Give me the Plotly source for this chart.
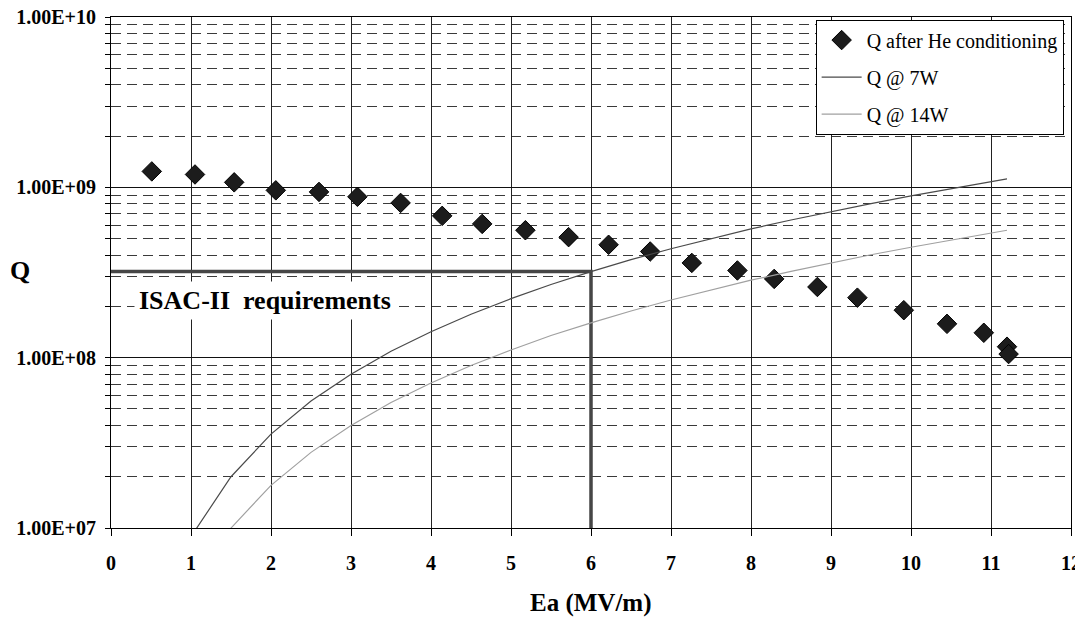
import plotly.graph_objects as go

# Measured data (Q after He conditioning)
E_meas = [0.51, 1.05, 1.54, 2.06, 2.60, 3.08, 3.62, 4.14, 4.64, 5.18, 5.72,
          6.22, 6.74, 7.26, 7.83, 8.29, 8.83, 9.33, 9.91, 10.45, 10.91, 11.20, 11.22]
Q_meas = [1.24e9, 1.19e9, 1.07e9, 9.6e8, 9.4e8, 8.8e8, 8.1e8, 6.8e8, 6.1e8, 5.6e8, 5.1e8,
          4.6e8, 4.2e8, 3.6e8, 3.25e8, 2.9e8, 2.6e8, 2.25e8, 1.9e8, 1.58e8, 1.4e8, 1.16e8, 1.05e8]

# Constant power curves
E_curve = [1.0, 1.5, 2.0, 2.5, 3.0, 3.5, 4.0, 4.5, 5.0, 5.5, 6.0, 6.5, 7.0, 7.5,
           8.0, 8.5, 9.0, 9.5, 10.0, 10.5, 11.0, 11.2]
Q_7W = [8.9e6, 2.0e7, 3.56e7, 5.56e7, 8.0e7, 1.09e8, 1.42e8, 1.8e8, 2.22e8, 2.69e8, 3.2e8,
        3.76e8, 4.36e8, 5.0e8, 5.7e8, 6.43e8, 7.2e8, 8.03e8, 8.9e8, 9.8e8, 1.08e9, 1.12e9]
Q_14W = [4.45e6, 1.0e7, 1.78e7, 2.78e7, 4.0e7, 5.45e7, 7.1e7, 9.0e7, 1.11e8, 1.35e8, 1.6e8,
         1.88e8, 2.18e8, 2.5e8, 2.85e8, 3.21e8, 3.6e8, 4.02e8, 4.45e8, 4.9e8, 5.4e8, 5.6e8]

# ISAC-II requirement corner
req_E = [0, 6, 6]
req_Q = [3.2e8, 3.2e8, 1e7]

x_ticks = list(range(0, 13))
y_major = [1e7, 1e8, 1e9, 1e10]
y_major_text = ["1.00E+07", "1.00E+08", "1.00E+09", "1.00E+10"]
y_minor = [m * d for d in (1e7, 1e8, 1e9) for m in range(2, 10)]

FONT = "Liberation Serif, Times New Roman, serif"

fig = go.Figure()

fig.add_trace(go.Scatter(
    x=req_E, y=req_Q, mode="lines",
    line=dict(color="#464646", width=3.5),
    showlegend=False, hoverinfo="skip"))

fig.add_trace(go.Scatter(
    x=E_meas, y=Q_meas, mode="markers", name="Q after He conditioning",
    legendgroup="a",
    marker=dict(symbol="diamond", size=15, color="#1c1c1c",
                line=dict(color="#000000", width=1))))

fig.add_trace(go.Scatter(
    x=E_curve, y=Q_7W, mode="lines", name="Q @ 7W", legendgroup="b",
    line=dict(color="#4a4a4a", width=1.2)))

fig.add_trace(go.Scatter(
    x=E_curve, y=Q_14W, mode="lines", name="Q @ 14W", legendgroup="c",
    line=dict(color="#a0a0a0", width=1.2)))

fig.update_layout(
    template="none",
    width=1083, height=619,
    margin=dict(l=103, r=20, t=9, b=99, autoexpand=False),
    paper_bgcolor="white", plot_bgcolor="white",
    font=dict(family=FONT, size=20, color="black"),
    legend=dict(
        x=0.734, y=0.995, xanchor="left", yanchor="top",
        bgcolor="white", bordercolor="black", borderwidth=1,
        font=dict(family=FONT, size=20, color="black"),
        tracegroupgap=8, itemwidth=40, traceorder="grouped"),
    xaxis=dict(
        automargin=False, ticklabeloverflow="allow",
        range=[0, 12], tickmode="array", tickvals=x_ticks,
        ticks="outside", ticklen=7, tickcolor="black",
        showline=True, linecolor="black", linewidth=1, mirror=True,
        showgrid=True, gridcolor="#222222", gridwidth=1,
        zeroline=False, ticklabelstandoff=10,
        tickfont=dict(family=FONT, size=20, color="black", weight="bold")),
    yaxis=dict(
        automargin=False, ticklabeloverflow="allow",
        type="log", range=[7, 10], tickmode="array",
        tickvals=y_major, ticktext=y_major_text,
        ticks="outside", ticklen=5, tickcolor="black",
        showline=True, linecolor="black", linewidth=1, mirror=True,
        showgrid=True, gridcolor="#111111", gridwidth=1,
        zeroline=False, ticklabelstandoff=5,
        tickfont=dict(family=FONT, size=20, color="black", weight="bold"),
        minor=dict(tickmode="array", tickvals=y_minor, ticks="outside",
                   ticklen=5, tickcolor="black", showgrid=True,
                   gridcolor="#3a3a3a", gridwidth=1, griddash="10px,6px")),
    annotations=[
        dict(text="<b>ISAC-II  requirements</b>", x=0.29, y=8.335,
             xref="x", yref="y", xanchor="left", yanchor="middle",
             showarrow=False, bgcolor="white", borderpad=4,
             font=dict(family=FONT, size=26, color="black")),
        dict(text="<b>Q</b>", x=-0.095, y=0.503, xref="paper", yref="paper",
             xanchor="center", yanchor="middle", showarrow=False,
             font=dict(family=FONT, size=26, color="black")),
        dict(text="<b>Ea (MV/m)</b>", x=0.5, y=-0.147, xref="paper", yref="paper",
             xanchor="center", yanchor="middle", showarrow=False,
             font=dict(family=FONT, size=25, color="black")),
    ],
)

fig.write_html("out.html")
